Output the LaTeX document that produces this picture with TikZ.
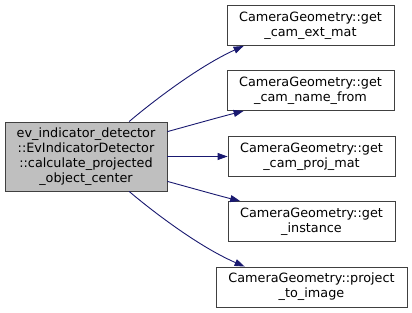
\documentclass[tikz,border=0pt]{standalone}
\usepackage{fontspec}
\setmainfont{DejaVu Sans}
\usetikzlibrary{arrows.meta}
\definecolor{edgeblue}{HTML}{191970}
\definecolor{boxline}{HTML}{404040}
\tikzset{
  fn/.style={draw=boxline, fill=white, line width=0.9pt, align=center,
    inner sep=0pt, minimum height=40pt, font=\fontsize{12.8}{15}\selectfont},
  call/.style={draw=edgeblue, line width=0.9pt,
    -{Triangle[length=10pt,width=7pt]}, fill=none}
}
\begin{document}
\begin{tikzpicture}[x=1pt,y=-1pt]
\useasboundingbox (0,0) rectangle (412,313);

\node[fn, fill=gray!50, minimum width=162pt, minimum height=69pt] (calc) at (86,156.5)
  {ev\_indicator\_detector\\::EvIndicatorDetector\\::calculate\_projected\\\_object\_center};

\node[fn, minimum width=167pt] (getext) at (310.5,25.5) {CameraGeometry::get\\\_cam\_ext\_mat};
\node[fn, minimum width=167pt] (getname) at (310.5,90.5) {CameraGeometry::get\\\_cam\_name\_from};
\node[fn, minimum width=167pt] (getproj) at (311.5,156.5) {CameraGeometry::get\\\_cam\_proj\_mat};
\node[fn, minimum width=167pt] (getinst) at (311.5,221.5) {CameraGeometry::get\\\_instance};
\node[fn, minimum width=191pt] (project) at (311.5,287) {CameraGeometry::project\\\_to\_image};

\draw[call] (calc.39) .. controls (145,108) and (195,68) .. (getext.197);
\draw[call] (calc.17) .. controls (195,124) and (220,117) .. (getname.197);
\draw[call] (calc.east) -- (getproj.west);
\draw[call] (calc.-17) .. controls (195,189) and (220,196) .. (getinst.164);
\draw[call] (calc.-39) .. controls (145,205) and (195,245) .. (project.163);
\end{tikzpicture}
\end{document}
